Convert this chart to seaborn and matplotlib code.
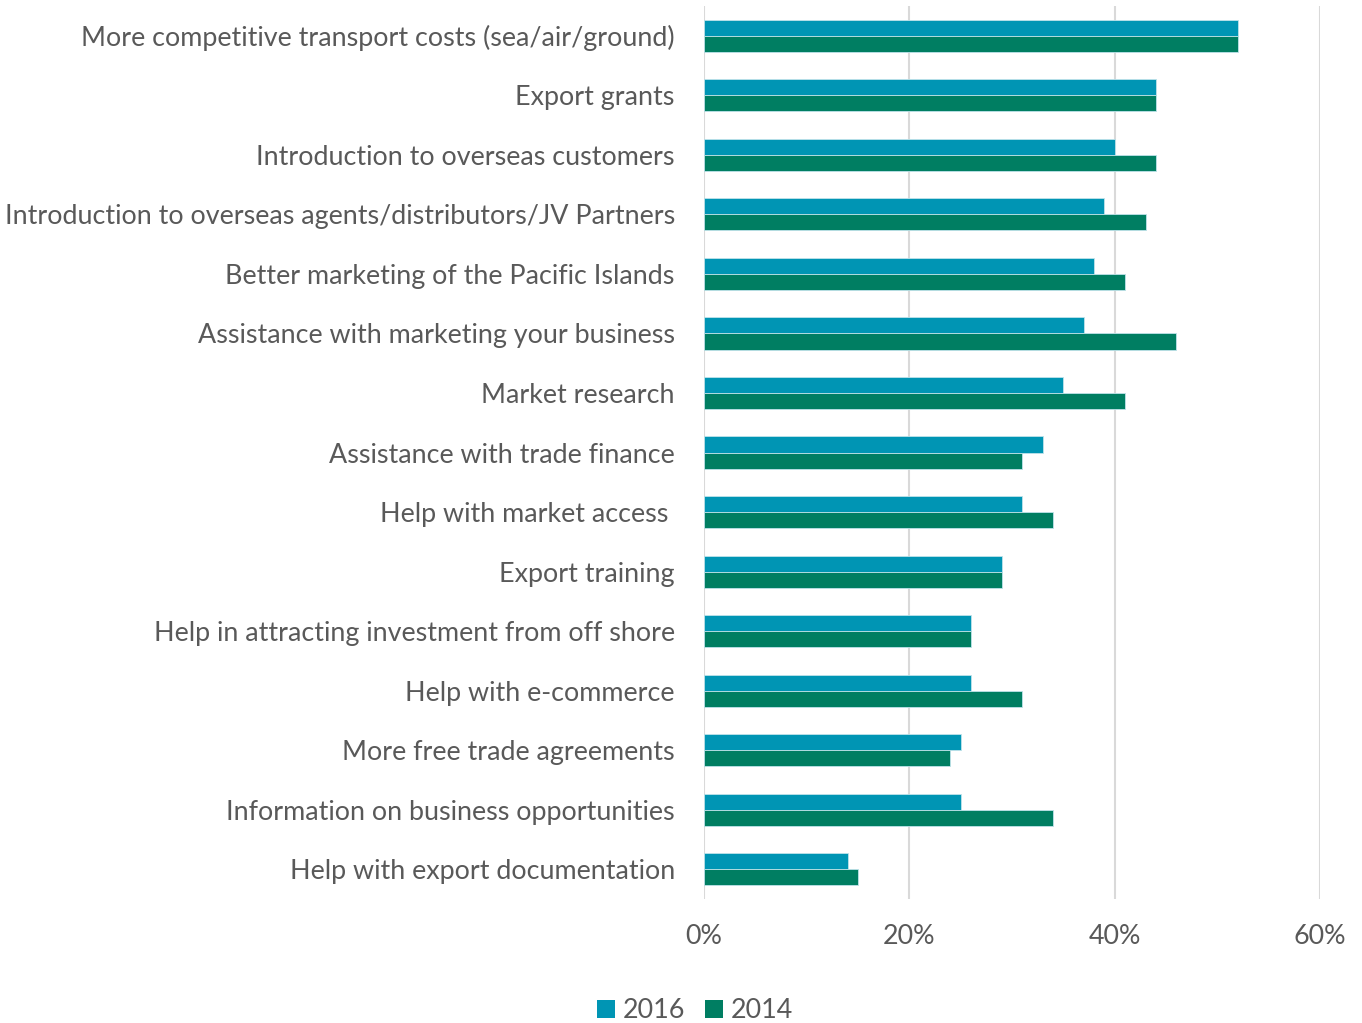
import matplotlib
matplotlib.use("Agg")
import matplotlib.pyplot as plt
import matplotlib.ticker as mticker
from matplotlib.patches import Patch
import pandas as pd
import seaborn as sns

categories = [
    "More competitive transport costs (sea/air/ground)",
    "Export grants",
    "Introduction to overseas customers",
    "Introduction to overseas agents/distributors/JV Partners",
    "Better marketing of the Pacific Islands",
    "Assistance with marketing your business",
    "Market research",
    "Assistance with trade finance",
    "Help with market access ",
    "Export training",
    "Help in attracting investment from off shore",
    "Help with e-commerce",
    "More free trade agreements",
    "Information on business opportunities",
    "Help with export documentation",
]
values_2016 = [52, 44, 40, 39, 38, 37, 35, 33, 31, 29, 26, 26, 25, 25, 14]
values_2014 = [52, 44, 44, 43, 41, 46, 41, 31, 34, 29, 26, 31, 24, 34, 15]
years = ["2016", "2014"]
colors = ["#0095B4", "#007E62"]
x_ticks = [0, 20, 40, 60]

df = pd.DataFrame({
    "category": categories * 2,
    "value": values_2016 + values_2014,
    "year": [years[0]] * len(categories) + [years[1]] * len(categories),
})

sns.set_theme(style="white")
plt.rcParams["font.family"] = ["Lato", "DejaVu Sans"]
text_color = "#595959"
fs = 19.4

fig = plt.figure(figsize=(13.62, 10.23), dpi=100)
ax = fig.add_axes([0.5169, 0.1212, 0.4523, 0.8729])

sns.barplot(
    data=df, y="category", x="value", hue="year",
    order=categories, hue_order=years, palette=colors, saturation=1,
    orient="h", width=0.54, gap=0, dodge=True,
    edgecolor="#BFE3EA", linewidth=0.6, legend=False, ax=ax,
)

ax.set_xlim(0, 60)
ax.set_ylim(len(categories) - 0.5, -0.5)
ax.set_xticks(x_ticks)
ax.xaxis.set_major_formatter(mticker.FuncFormatter(lambda v, p: f"{v:.0f}%"))
ax.grid(axis="x", color="#D9D9D9", linewidth=1.5)
ax.set_axisbelow(True)
for s in ax.spines.values():
    s.set_visible(False)
ax.set_xlabel("")
ax.set_ylabel("")
ax.tick_params(axis="y", length=0, pad=21, labelsize=fs, labelcolor=text_color)
ax.tick_params(axis="x", length=0, pad=18, labelsize=fs, labelcolor=text_color)

handles = [Patch(facecolor=c, edgecolor="none") for c in colors]
fig.legend(
    handles, years, loc="center", bbox_to_anchor=(0.5105, 0.012),
    ncol=2, frameon=False, fontsize=fs, labelcolor=text_color,
    handlelength=0.65, handleheight=0.65, handletextpad=0.3, columnspacing=0.75,
)

fig.savefig("out.png", dpi=100)
